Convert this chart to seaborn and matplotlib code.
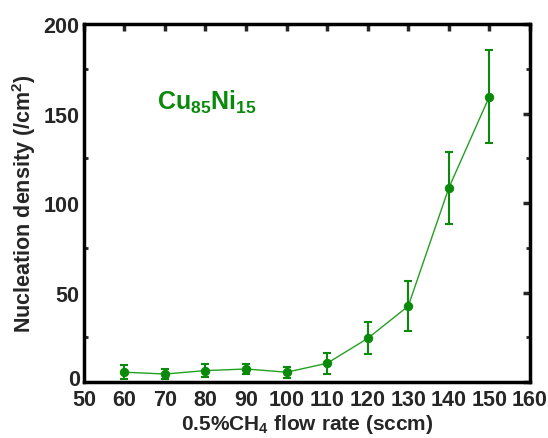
import matplotlib
matplotlib.use("Agg")
import matplotlib.pyplot as plt
import matplotlib.transforms as mtransforms
import seaborn as sns
import pandas as pd
from matplotlib.ticker import MultipleLocator

flow_rate = [60, 70, 80, 90, 100, 110, 120, 130, 140, 150]
density = [5.6, 4.6, 6.5, 7.4, 5.6, 10.6, 24.5, 42.5, 108.5, 159.5]
error = [4, 3, 3.7, 3, 3, 6, 9, 14, 20, 26]

df = pd.DataFrame({"flow": flow_rate, "density": density, "err": error})

sns.set_style("white")
plt.rcParams['font.family'] = ['Liberation Sans', 'DejaVu Sans']
plt.rcParams['mathtext.fontset'] = 'custom'
plt.rcParams['mathtext.rm'] = 'Liberation Sans'
plt.rcParams['mathtext.bf'] = 'Liberation Sans:bold'

fig = plt.figure(figsize=(5.48, 4.39), dpi=100)
ax = fig.add_axes([0.153, 0.127, 0.814, 0.816])

green = "#0a8a0a"
ax.errorbar(df["flow"], df["density"], yerr=df["err"], fmt="none",
            ecolor=green, elinewidth=1.5, capsize=3, capthick=1.5, zorder=2)
sns.lineplot(data=df, x="flow", y="density", ax=ax, color="#22a022", lw=1,
             marker="o", markersize=6, markerfacecolor=green, markeredgecolor=green, zorder=3)

ax.set_xlim(50, 160)
ax.set_ylim(0, 200)
ax.xaxis.set_major_locator(MultipleLocator(10))
ax.yaxis.set_major_locator(MultipleLocator(50))
ax.yaxis.set_minor_locator(MultipleLocator(25))

for s in ax.spines.values():
    s.set_linewidth(2.5)
    s.set_color("black")

ax.tick_params(axis="both", which="major", direction="in", length=5, width=2.5,
               labelsize=15.5, top=True, right=True, pad=3)
ax.tick_params(axis="x", which="major", pad=5)
ax.tick_params(axis="y", which="minor", direction="in", length=3, width=2, right=True, left=True)
for lab in ax.get_xticklabels() + ax.get_yticklabels():
    lab.set_fontweight("bold")

# nudge the "0" y tick label up a little, as in the reference
offset = mtransforms.ScaledTranslation(0, 4 / 72, fig.dpi_scale_trans)
for tick in ax.yaxis.get_major_ticks():
    if abs(tick.get_loc()) < 1e-9:
        tick.label1.set_transform(tick.label1.get_transform() + offset)

ax.set_xlabel(r"0.5%CH$_\mathbf{4}$ flow rate (sccm)", fontsize=15, fontweight="bold", labelpad=1)
ax.set_ylabel(r"Nucleation density (/cm$^\mathbf{2}$)", fontsize=15.5, fontweight="bold", labelpad=4)

ax.text(0.164, 0.783, r"Cu$_\mathbf{85}$Ni$_\mathbf{15}$", transform=ax.transAxes,
        color=green, fontsize=18, fontweight="bold", va="center", ha="left")

fig.savefig("out.png", dpi=100)
